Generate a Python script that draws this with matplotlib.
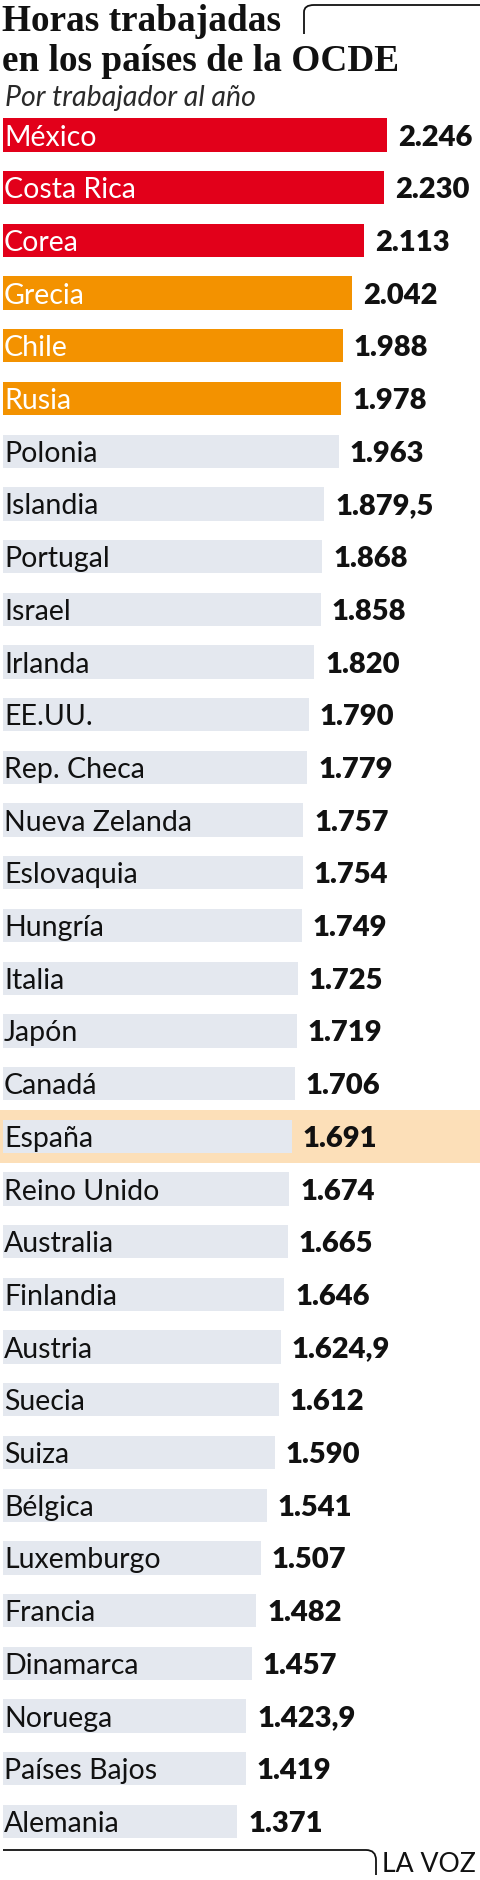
import matplotlib
matplotlib.use("Agg")
import matplotlib.pyplot as plt
from matplotlib.path import Path
from matplotlib.patches import PathPatch

# datos: horas trabajadas por trabajador al año (OCDE)
paises = ["México", "Costa Rica", "Corea", "Grecia", "Chile", "Rusia", "Polonia",
          "Islandia", "Portugal", "Israel", "Irlanda", "EE.UU.", "Rep. Checa",
          "Nueva Zelanda", "Eslovaquia", "Hungría", "Italia", "Japón", "Canadá",
          "España", "Reino Unido", "Australia", "Finlandia", "Austria", "Suecia",
          "Suiza", "Bélgica", "Luxemburgo", "Francia", "Dinamarca", "Noruega",
          "Países Bajos", "Alemania"]
horas = [2246, 2230, 2113, 2042, 1988, 1978, 1963, 1879.5, 1868, 1858, 1820, 1790,
         1779, 1757, 1754, 1749, 1725, 1719, 1706, 1691, 1674, 1665, 1646, 1624.9,
         1612, 1590, 1541, 1507, 1482, 1457, 1423.9, 1419, 1371]
grupo = ["rojo"] * 3 + ["naranja"] * 3 + ["gris"] * 27
destacado = "España"

ROJO, NARANJA, GRIS = "#e2001a", "#f39200", "#e4e8ef"
RESALTE = "#fcdfb8"
TINTA = "#111111"
colores = {"rojo": ROJO, "naranja": NARANJA, "gris": GRIS}


def fmt(v):
    s = f"{v:,.1f}" if v % 1 else f"{v:,.0f}"
    return s.replace(",", "X").replace(".", ",").replace("X", ".")


W, H = 480, 1880
fig = plt.figure(figsize=(W / 100, H / 100), dpi=100)
fig.patch.set_facecolor("white")

# ejes a pantalla completa: 0.171 px por hora, barras cada 52.7 px desde y=135
ax = fig.add_axes([0, 0, 1, 1])
ax.set_xlim(-3 / 0.171, (W - 3) / 0.171)
ax.set_ylim((H - 135) / 52.7, -135 / 52.7)
ax.axis("off")

y = list(range(len(paises)))
ax.barh(y, horas, height=0.63, left=0,
        color=[colores[g] for g in grupo], zorder=2)

for i, (p, v, g) in enumerate(zip(paises, horas, grupo)):
    if p == destacado:
        ax.axhspan(i - 0.5, i + 0.5, color=RESALTE, zorder=1, lw=0)
    ax.text(6, i, p, va="center_baseline", ha="left", fontsize=20.5,
            family="Lato", color="white" if g != "gris" else TINTA, zorder=3)
    ax.annotate(fmt(v), (v, i), xytext=(7.8, 0), textcoords="offset points",
                va="center_baseline", ha="left", fontsize=21, family="Lato",
                fontweight="heavy", color=TINTA, zorder=3)

# título
for txt, base in [("Horas trabajadas", 31), ("en los países de la OCDE", 71)]:
    fig.text(2 / W, 1 - base / H, txt, fontsize=26.8, family="Liberation Serif",
             fontweight="bold", color=TINTA, va="baseline")
fig.text(5 / W, 1 - 106 / H, "Por trabajador al año", fontsize=20.5, family="Lato",
         style="italic", color="#2a2a2a", va="baseline")

# corchetes decorativos (coordenadas de píxel)
def px(x, yy):
    return (x / W, 1 - yy / H)

top = Path([px(304, 34), px(304, 12), px(304, 5), px(314, 5), px(480, 5)],
           [Path.MOVETO, Path.LINETO, Path.CURVE3, Path.CURVE3, Path.LINETO])
bot = Path([px(3, 1850), px(366, 1850), px(376, 1850), px(376, 1860), px(376, 1875)],
           [Path.MOVETO, Path.LINETO, Path.CURVE3, Path.CURVE3, Path.LINETO])
for pth in (top, bot):
    fig.add_artist(PathPatch(pth, fill=False, lw=1.3, ec=TINTA,
                             transform=fig.transFigure))

fig.text(382 / W, 1 - 1872 / H, "LA VOZ", fontsize=19.2, family="Lato",
         color=TINTA, va="baseline")

fig.savefig("out.png", dpi=100, facecolor="white")
